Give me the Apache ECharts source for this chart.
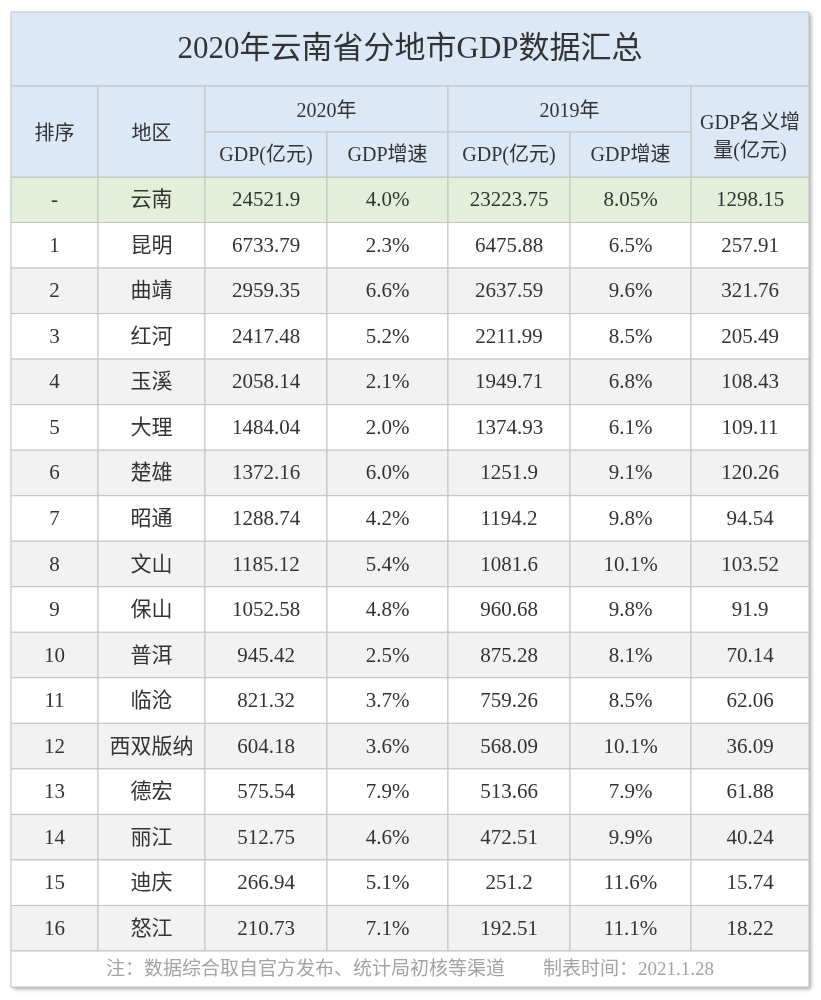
<!DOCTYPE html>
<html>
<head>
<meta charset="utf-8">
<script src="https://cdn.jsdelivr.net/npm/echarts@6/dist/echarts.min.js"></script>
<style>
  html, body { margin: 0; padding: 0; background: #fff; }
  #chart { width: 821px; height: 1000px; }
</style>
</head>
<body>
<div id="chart"></div>
<script>
// 表格数据
const ranks = ['-', '1', '2', '3', '4', '5', '6', '7', '8', '9', '10', '11', '12', '13', '14', '15', '16']
const regions = ['云南', '昆明', '曲靖', '红河', '玉溪', '大理', '楚雄', '昭通', '文山', '保山', '普洱', '临沧', '西双版纳', '德宏', '丽江', '迪庆', '怒江']
const gdp2020 = ['24521.9', '6733.79', '2959.35', '2417.48', '2058.14', '1484.04', '1372.16', '1288.74', '1185.12', '1052.58', '945.42', '821.32', '604.18', '575.54', '512.75', '266.94', '210.73']
const growth2020 = ['4.0%', '2.3%', '6.6%', '5.2%', '2.1%', '2.0%', '6.0%', '4.2%', '5.4%', '4.8%', '2.5%', '3.7%', '3.6%', '7.9%', '4.6%', '5.1%', '7.1%']
const gdp2019 = ['23223.75', '6475.88', '2637.59', '2211.99', '1949.71', '1374.93', '1251.9', '1194.2', '1081.6', '960.68', '875.28', '759.26', '568.09', '513.66', '472.51', '251.2', '192.51']
const growth2019 = ['8.05%', '6.5%', '9.6%', '8.5%', '6.8%', '6.1%', '9.1%', '9.8%', '10.1%', '9.8%', '8.1%', '8.5%', '10.1%', '7.9%', '9.9%', '11.6%', '11.1%']
const increase = ['1298.15', '257.91', '321.76', '205.49', '108.43', '109.11', '120.26', '94.54', '103.52', '91.9', '70.14', '62.06', '36.09', '61.88', '40.24', '15.74', '18.22']

const titleText = '2020年云南省分地市GDP数据汇总'
const noteText = '注：数据综合取自官方发布、统计局初核等渠道　　制表时间：2021.1.28'

// 布局
const L = 11, R = 809
const colEdges = [0, 87, 194, 316, 437, 559, 680, 798]
const FONT = "'Liberation Serif','Noto Sans CJK SC',serif"
const lineColor = '#c2c2c2'
const headBg = '#dce8f5'
const textColor = '#333'
const T0 = 12, T1 = 86, H1 = 132, H2 = 177, B0 = 951, B1 = 987

const columns = [ranks, regions, gdp2020, growth2020, gdp2019, growth2019, increase]
const cellData = []
columns.forEach((col, c) => {
  col.forEach((v, r) => cellData.push([c, r, v]))
})

const rowFill = (r) => {
  if (r === 0) return '#e3efd9'
  return r % 2 === 1 ? '#ffffff' : '#f2f2f2'
}

const renderCell = (params, api) => {
  const c = api.value(0)
  const r = api.value(1)
  const p0 = api.coord([colEdges[c], r])
  const p1 = api.coord([colEdges[c + 1], r])
  const h = api.size([0, 1])[1]
  return {
    type: 'group',
    children: [
      {
        type: 'rect',
        shape: {x: p0[0], y: p0[1] - h / 2, width: p1[0] - p0[0], height: h},
        style: {fill: rowFill(r), stroke: lineColor, lineWidth: 1}
      },
      {
        type: 'text',
        x: (p0[0] + p1[0]) / 2,
        y: p0[1] + 1,
        style: {
          text: cellData[params.dataIndex][2],
          font: '21px ' + FONT,
          fill: textColor,
          align: 'center',
          verticalAlign: 'middle'
        }
      }
    ]
  }
}

// 表头
const x = (i) => L + colEdges[i]
const hRect = (x0, y0, x1, y1, fill) => ({
  type: 'rect', z: 10,
  shape: {x: x0, y: y0, width: x1 - x0, height: y1 - y0},
  style: {fill: fill, stroke: lineColor, lineWidth: 1}
})
const hText = (t, cx, cy, size, color) => ({
  type: 'text', z: 11, x: cx, y: cy,
  style: {text: t, font: size + 'px ' + FONT, fill: color || textColor, align: 'center', verticalAlign: 'middle', lineHeight: 28}
})

const graphics = [
  // 外框阴影
  {type: 'rect', z: 0, shape: {x: L, y: T0, width: R - L, height: B1 - T0},
    style: {fill: '#fff', shadowBlur: 4, shadowOffsetX: 2, shadowOffsetY: 2, shadowColor: 'rgba(0,0,0,0.35)'}},
  hRect(L, T0, R, T1, headBg),
  hText(titleText, (L + R) / 2, 50, 31),
  hRect(x(0), T1, x(1), H2, headBg),
  hText('排序', (x(0) + x(1)) / 2, 135, 20),
  hRect(x(1), T1, x(2), H2, headBg),
  hText('地区', (x(1) + x(2)) / 2, 135, 20),
  hRect(x(2), T1, x(4), H1, headBg),
  hText('2020年', (x(2) + x(4)) / 2, 112, 20),
  hRect(x(4), T1, x(6), H1, headBg),
  hText('2019年', (x(4) + x(6)) / 2, 112, 20),
  hRect(x(6), T1, x(7), H2, headBg),
  hText('GDP名义增\n量(亿元)', (x(6) + x(7)) / 2, 138, 20),
  hRect(x(2), H1, x(3), H2, headBg),
  hText('GDP(亿元)', (x(2) + x(3)) / 2, 156, 20),
  hRect(x(3), H1, x(4), H2, headBg),
  hText('GDP增速', (x(3) + x(4)) / 2, 156, 20),
  hRect(x(4), H1, x(5), H2, headBg),
  hText('GDP(亿元)', (x(4) + x(5)) / 2, 156, 20),
  hRect(x(5), H1, x(6), H2, headBg),
  hText('GDP增速', (x(5) + x(6)) / 2, 156, 20),
  // 脚注
  hRect(L, B0, R, B1, '#ffffff'),
  hText(noteText, (L + R) / 2, 970, 19, '#a3a3a3')
]

const chart = echarts.init(document.getElementById('chart'), null, {renderer: 'canvas'})
chart.setOption({
  animation: false,
  backgroundColor: '#fff',
  grid: {left: L, top: H2, width: R - L, height: B0 - H2},
  xAxis: {type: 'value', min: 0, max: colEdges[colEdges.length - 1], show: false},
  yAxis: {type: 'category', data: ranks.map((_, i) => i), inverse: true, show: false},
  graphic: graphics,
  series: [{
    type: 'custom',
    renderItem: renderCell,
    data: cellData.map(d => [d[0], d[1]]),
    z: 5
  }]
})
</script>
</body>
</html>
